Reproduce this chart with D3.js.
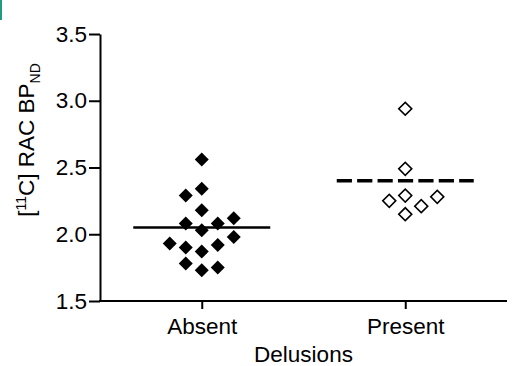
<!DOCTYPE html>
<html>
<head>
<meta charset="utf-8">
<script src="https://cdn.jsdelivr.net/npm/d3@7"></script>
<style>
  body { margin: 0; background: #fff; }
  svg { display: block; }
  svg text { font-family: "Liberation Sans", Arial, sans-serif; }
</style>
</head>
<body>
<div id="chart"></div>
<script>
// data
const categories = ["Absent", "Present"];
const absentValues = [2.56, 2.34, 2.29, 2.18, 2.12, 2.08, 2.08, 2.03, 1.98, 1.93, 1.92, 1.90, 1.87, 1.78, 1.75, 1.73];
const absentSlots  = [0, 0, -1, 0, 2, -1, 1, 0, 2, -2, 1, -1, 0, -1, 1, 0];
const presentValues = [2.94, 2.49, 2.29, 2.28, 2.25, 2.21, 2.15];
const presentSlots  = [0, 0, 0, 2, -1, 1, 0];
const groupMeans = [2.05, 2.40];
const yTicks = [1.5, 2.0, 2.5, 3.0, 3.5];

const width = 512, height = 366;
const slotW = 16;
const fs = 22.5;

const svg = d3.select("#chart").append("svg")
  .attr("width", width)
  .attr("height", height);

// little teal tab at the top-left corner
svg.append("rect")
  .attr("x", 0).attr("y", 0)
  .attr("width", 2).attr("height", 20)
  .attr("fill", "#1f9e7f");

const x = d3.scalePoint()
  .domain(categories)
  .range([100, 507])
  .padding(0.5);

const y = d3.scaleLinear()
  .domain([1.5, 3.5])
  .range([301, 34]);

// y axis
const yAxis = svg.append("g")
  .attr("transform", "translate(100,0)")
  .call(d3.axisLeft(y).tickValues(yTicks).tickFormat(d3.format(".1f")).tickSize(11).tickPadding(2).tickSizeOuter(0));
yAxis.attr("font-family", null).attr("font-size", fs);
yAxis.select(".domain").attr("stroke-width", 2);
yAxis.selectAll(".tick line").attr("stroke-width", 2);
yAxis.selectAll(".tick text").attr("fill", "#000");

// x axis
const xAxis = svg.append("g")
  .attr("transform", "translate(0,301)")
  .call(d3.axisBottom(x).tickSize(8).tickPadding(9).tickSizeOuter(0));
xAxis.attr("font-family", null).attr("font-size", fs);
xAxis.select(".domain").attr("stroke-width", 2).attr("d", "M99,0H507");
xAxis.selectAll(".tick line").attr("stroke-width", 2);
xAxis.selectAll(".tick text").attr("fill", "#000");

// axis titles
svg.append("text")
  .attr("x", x.range()[0] + (x.range()[1] - x.range()[0]) / 2)
  .attr("y", 362)
  .attr("text-anchor", "middle")
  .attr("font-size", fs)
  .text("Delusions");

const yt = svg.append("text")
  .attr("transform", "translate(34,140) rotate(-90)")
  .attr("text-anchor", "middle")
  .attr("font-size", fs);
yt.append("tspan").text("[");
yt.append("tspan").attr("font-size", 14).attr("dy", -8).text("11");
yt.append("tspan").attr("dy", 8).text("C] RAC BP");
yt.append("tspan").attr("font-size", 14).attr("dy", 6).text("ND");

// points
const diamond = d3.symbol().type(d3.symbolSquare);

const absentPts = absentValues.map((v, i) => ({ cat: "Absent", v, slot: absentSlots[i] }));
const presentPts = presentValues.map((v, i) => ({ cat: "Present", v, slot: presentSlots[i] }));

svg.append("g").selectAll("path")
  .data(absentPts)
  .join("path")
  .attr("d", diamond.size(98)())
  .attr("transform", d => `translate(${x(d.cat) + d.slot * slotW},${y(d.v)}) rotate(45)`)
  .attr("fill", "#000");

svg.append("g").selectAll("path")
  .data(presentPts)
  .join("path")
  .attr("d", diamond.size(84)())
  .attr("transform", d => `translate(${x(d.cat) + d.slot * slotW},${y(d.v)}) rotate(45)`)
  .attr("fill", "#fff")
  .attr("stroke", "#000")
  .attr("stroke-width", 1.6);

// group mean lines
const half = 68.5;
svg.append("line")
  .attr("x1", x("Absent") - half).attr("x2", x("Absent") + half)
  .attr("y1", y(groupMeans[0])).attr("y2", y(groupMeans[0]))
  .attr("stroke", "#000").attr("stroke-width", 2.5);

svg.append("line")
  .attr("x1", x("Present") - half).attr("x2", x("Present") + half)
  .attr("y1", y(groupMeans[1])).attr("y2", y(groupMeans[1]))
  .attr("stroke", "#000").attr("stroke-width", 3.5)
  .attr("stroke-dasharray", "15.2,5.2");
</script>
</body>
</html>
